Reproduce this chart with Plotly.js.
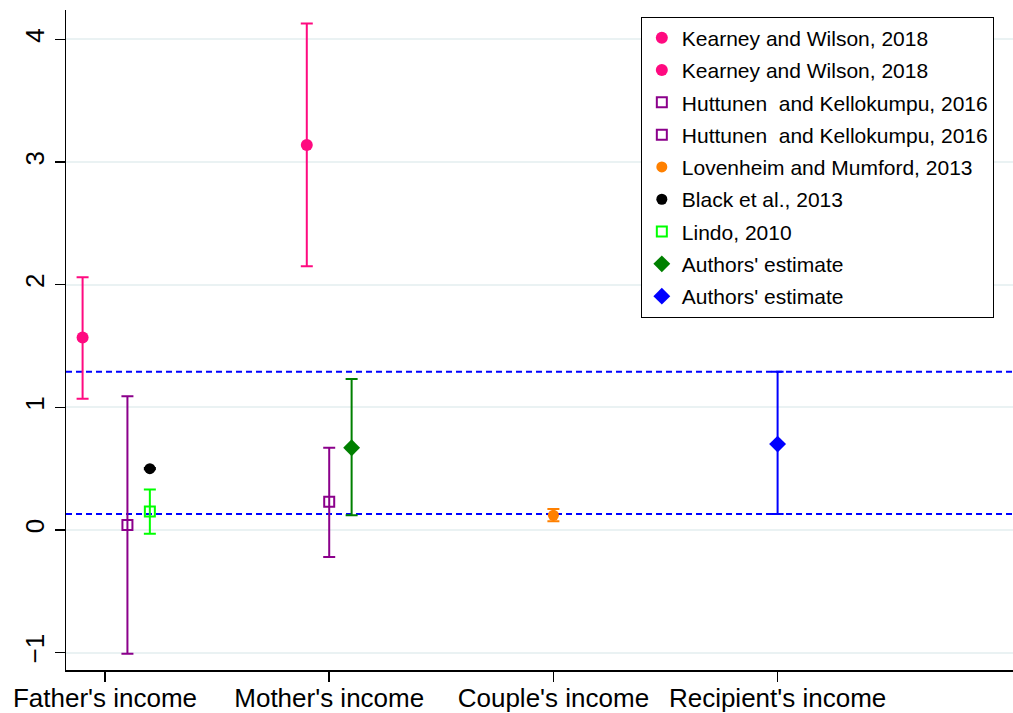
<!DOCTYPE html>
<html>
<head>
<meta charset="utf-8">
<script src="https://cdn.plot.ly/plotly-3.0.1.min.js"></script>
<style>
  html, body { margin: 0; padding: 0; background: #fff; }
  #chart { width: 1013px; height: 713px; }
</style>
</head>
<body>
<div id="chart"></div>
<script>
// categories on the x axis
const categories = ["Father's income", "Mother's income", "Couple's income", "Recipient's income"];
const categoryPos = [1, 2, 3, 4];

// one estimate per legend entry
const studyNames = [
  "Kearney and Wilson, 2018",
  "Kearney and Wilson, 2018",
  "Huttunen  and Kellokumpu, 2016",
  "Huttunen  and Kellokumpu, 2016",
  "Lovenheim and Mumford, 2013",
  "Black et al., 2013",
  "Lindo, 2010",
  "Authors' estimate",
  "Authors' estimate",
];
const studyX = [0.9, 1.9, 1.1, 2.0, 3.0, 1.2, 1.2, 2.1, 4.0];
const estimate = [1.57, 3.14, 0.04, 0.23, 0.12, 0.50, 0.15, 0.67, 0.70];
const ciLow = [1.07, 2.15, -1.01, -0.22, 0.07, 0.495, -0.03, 0.12, 0.13];
const ciHigh = [2.06, 4.13, 1.09, 0.67, 0.17, 0.505, 0.33, 1.23, 1.29];

// authors' recipient-income interval, drawn across the panel
const authorsBand = [0.13, 1.29];

const colors = ["#ff0a80", "#ff0a80", "#8b008b", "#8b008b", "#ff8000", "#000000", "#00ff00", "#008000", "#0000ff"];
const symbols = ["circle", "circle", "square-open", "square-open", "circle", "circle", "square-open", "diamond", "diamond"];
const sizes = [12, 12, 10, 10, 11, 11, 10, 13, 13];

const traces = studyNames.map((name, i) => ({
  type: "scatter",
  mode: "markers",
  name,
  legendgroup: "g" + i,
  x: [studyX[i]],
  y: [estimate[i]],
  marker: {
    color: colors[i],
    symbol: symbols[i],
    size: sizes[i],
    line: { color: colors[i], width: symbols[i] === "square-open" ? 2 : 0 },
  },
  error_y: {
    type: "data",
    symmetric: false,
    array: [ciHigh[i] - estimate[i]],
    arrayminus: [estimate[i] - ciLow[i]],
    color: colors[i],
    thickness: 2,
    width: 6,
  },
}));

const layout = {
  width: 1013,
  height: 713,
  paper_bgcolor: "#ffffff",
  plot_bgcolor: "#ffffff",
  font: { family: '"Liberation Sans", Arial, sans-serif', size: 22, color: "#000000" },
  margin: { l: 66, r: 0, t: 10, b: 43 },
  showlegend: true,
  legend: {
    x: 0.607,
    y: 0.99,
    xanchor: "left",
    yanchor: "top",
    bordercolor: "#000000",
    borderwidth: 1,
    bgcolor: "#ffffff",
    font: { size: 21 },
    traceorder: "grouped",
    tracegroupgap: 2,
    itemwidth: 30,
    entrywidth: 330,
  },
  xaxis: {
    range: [0.826, 5.05],
    tickvals: categoryPos,
    ticktext: categories,
    ticks: "outside",
    ticklen: 10,
    tickwidth: 1.5,
    tickcolor: "#000000",
    ticklabelstandoff: -6,
    showline: true,
    linecolor: "#000000",
    linewidth: 1.5,
    showgrid: false,
    zeroline: false,
    tickfont: { size: 26 },
  },
  yaxis: {
    range: [-1.142, 4.24],
    tickvals: [-1, 0, 1, 2, 3, 4],
    tickangle: -90,
    ticks: "outside",
    ticklen: 10,
    tickwidth: 1.5,
    tickcolor: "#000000",
    showline: true,
    linecolor: "#000000",
    linewidth: 1.5,
    showgrid: true,
    gridcolor: "#eaf2f3",
    gridwidth: 2,
    zeroline: false,
    tickfont: { size: 26 },
  },
  shapes: authorsBand.map((v) => ({
    type: "line",
    xref: "paper",
    x0: 0,
    x1: 1,
    yref: "y",
    y0: v,
    y1: v,
    line: { color: "#0000ff", width: 2, dash: "6px,4px" },
    layer: "below",
  })),
};

Plotly.newPlot("chart", traces, layout, { displayModeBar: false, staticPlot: true });
</script>
</body>
</html>
